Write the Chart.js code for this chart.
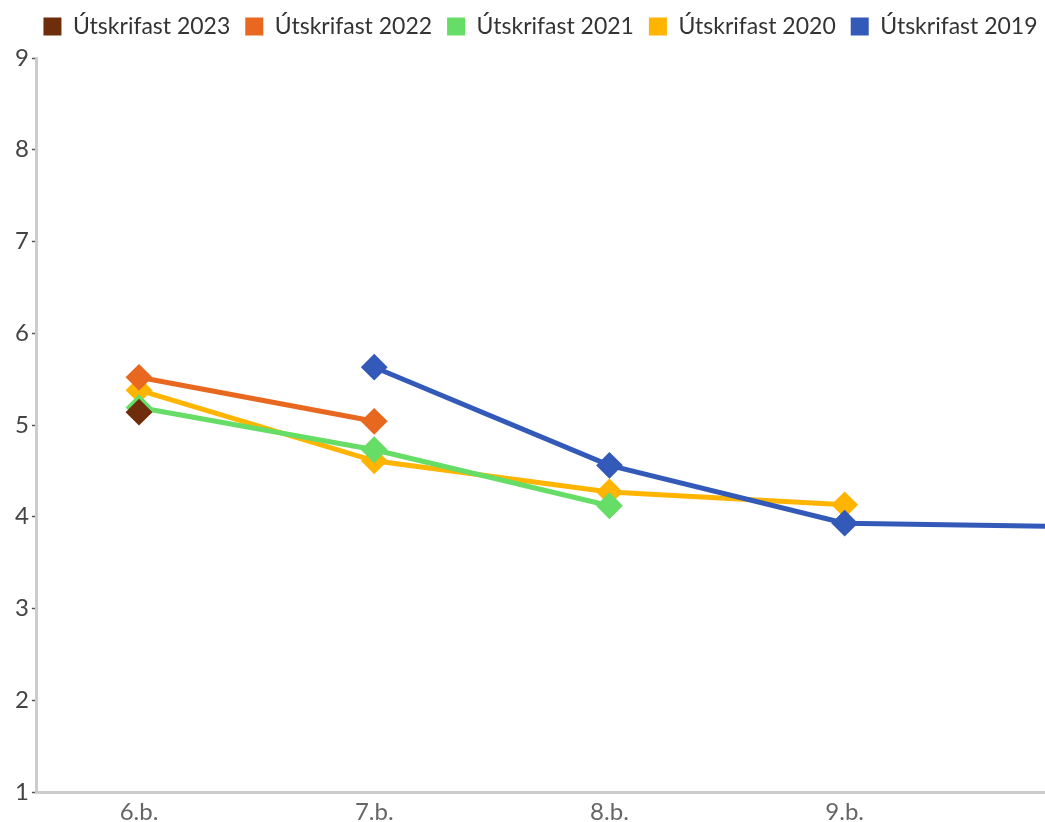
<!DOCTYPE html>
<html>
<head>
<meta charset="utf-8">
<script src="https://cdn.jsdelivr.net/npm/chart.js@4"></script>
<style>
  html, body { margin: 0; padding: 0; background: #fff; overflow: hidden; }
  #wrap { width: 1045px; height: 822px; overflow: hidden; position: relative; }
  canvas { display: block; }
</style>
</head>
<body>
<div id="wrap">
  <canvas id="chart" width="1120" height="822"></canvas>
</div>
<script>
// categories (10.b. runs off the right edge in the original)
const categories = ['6.b.', '7.b.', '8.b.', '9.b.', '10.b.'];
const yTicks = [1, 2, 3, 4, 5, 6, 7, 8, 9];

// values per cohort, null where there is no point
const y2023 = [5.14, null, null, null, null];
const y2022 = [5.52, 5.04, null, null, null];
const y2021 = [5.19, 4.73, 4.12, null, null];
const y2020 = [5.38, 4.61, 4.27, 4.13, null];
const y2019 = [null, 5.63, 4.56, 3.93, 3.89];

const seriesNames = ['Útskrifast 2023', 'Útskrifast 2022', 'Útskrifast 2021', 'Útskrifast 2020', 'Útskrifast 2019'];
const seriesValues = [y2023, y2022, y2021, y2020, y2019];
const seriesColors = ['#6e2d0b', '#e8681f', '#66dd66', '#ffb400', '#3359b9'];
// draw order: lower = on top
const drawOrder = [0, 1, 3, 4, 2];

const fontFamily = 'Lato, "Open Sans", sans-serif';

const datasets = seriesNames.map((name, i) => ({
    label: name,
    data: seriesValues[i].map((v, j) => ({ x: j, y: v })),
    borderColor: seriesColors[i],
    backgroundColor: seriesColors[i],
    borderWidth: 5,
    pointStyle: 'rectRot',
    pointRadius: 12,
    pointBorderWidth: 2,
    pointBackgroundColor: seriesColors[i],
    pointBorderColor: seriesColors[i],
    tension: 0,
    spanGaps: false,
    order: drawOrder[i]
}));

// legend: a bit more room under it, and centred on the visible part of the page
const legendTweak = {
    id: 'legendTweak',
    beforeInit(chart) {
        const fit = chart.legend.fit;
        chart.legend.fit = function () {
            fit.call(this);
            this.height += 10;
        };
    },
    afterLayout(chart) {
        chart.legend.left -= 25.5;
        chart.legend.right -= 25.5;
    }
};

const ctx = document.getElementById('chart').getContext('2d');
new Chart(ctx, {
    type: 'line',
    data: { datasets: datasets },
    plugins: [legendTweak],
    options: {
        responsive: false,
        animation: false,
        layout: {
            padding: { top: 0, left: 12, right: 0, bottom: 0 }
        },
        scales: {
            x: {
                type: 'linear',
                min: -0.434,
                max: 4.111,
                // 10.b. sits outside the visible page, only label the visible ones
                afterBuildTicks: (scale) => {
                    scale.ticks = categories.slice(0, 4).map((c, i) => ({ value: i }));
                },
                afterFit: (scale) => {
                    scale.height = 30;
                },
                ticks: {
                    callback: (v) => categories[v],
                    color: '#666',
                    padding: 8,
                    maxRotation: 0,
                    autoSkip: false,
                    font: { family: fontFamily, size: 24, lineHeight: 1 }
                },
                grid: { display: false, drawTicks: false },
                border: { display: true, color: '#cccccc', width: 3 }
            },
            y: {
                min: 1,
                max: 9,
                afterBuildTicks: (scale) => {
                    scale.ticks = yTicks.map(v => ({ value: v }));
                },
                ticks: {
                    color: '#444',
                    padding: 3,
                    font: { family: fontFamily, size: 24 }
                },
                grid: {
                    display: true,
                    drawOnChartArea: false,
                    drawTicks: true,
                    tickLength: 5,
                    tickColor: '#555',
                    tickWidth: 1.5
                },
                border: { display: true, color: '#cccccc', width: 3 }
            }
        },
        plugins: {
            legend: {
                display: true,
                position: 'top',
                labels: {
                    boxWidth: 18,
                    boxHeight: 18,
                    padding: 15,
                    color: '#333',
                    font: { family: fontFamily, size: 23 },
                    sort: (a, b) => a.datasetIndex - b.datasetIndex,
                    generateLabels: (chart) => {
                        return Chart.defaults.plugins.legend.labels.generateLabels(chart)
                            .map(l => ({ ...l, lineWidth: 0 }));
                    }
                }
            },
            tooltip: { enabled: false }
        }
    }
});
</script>
</body>
</html>
